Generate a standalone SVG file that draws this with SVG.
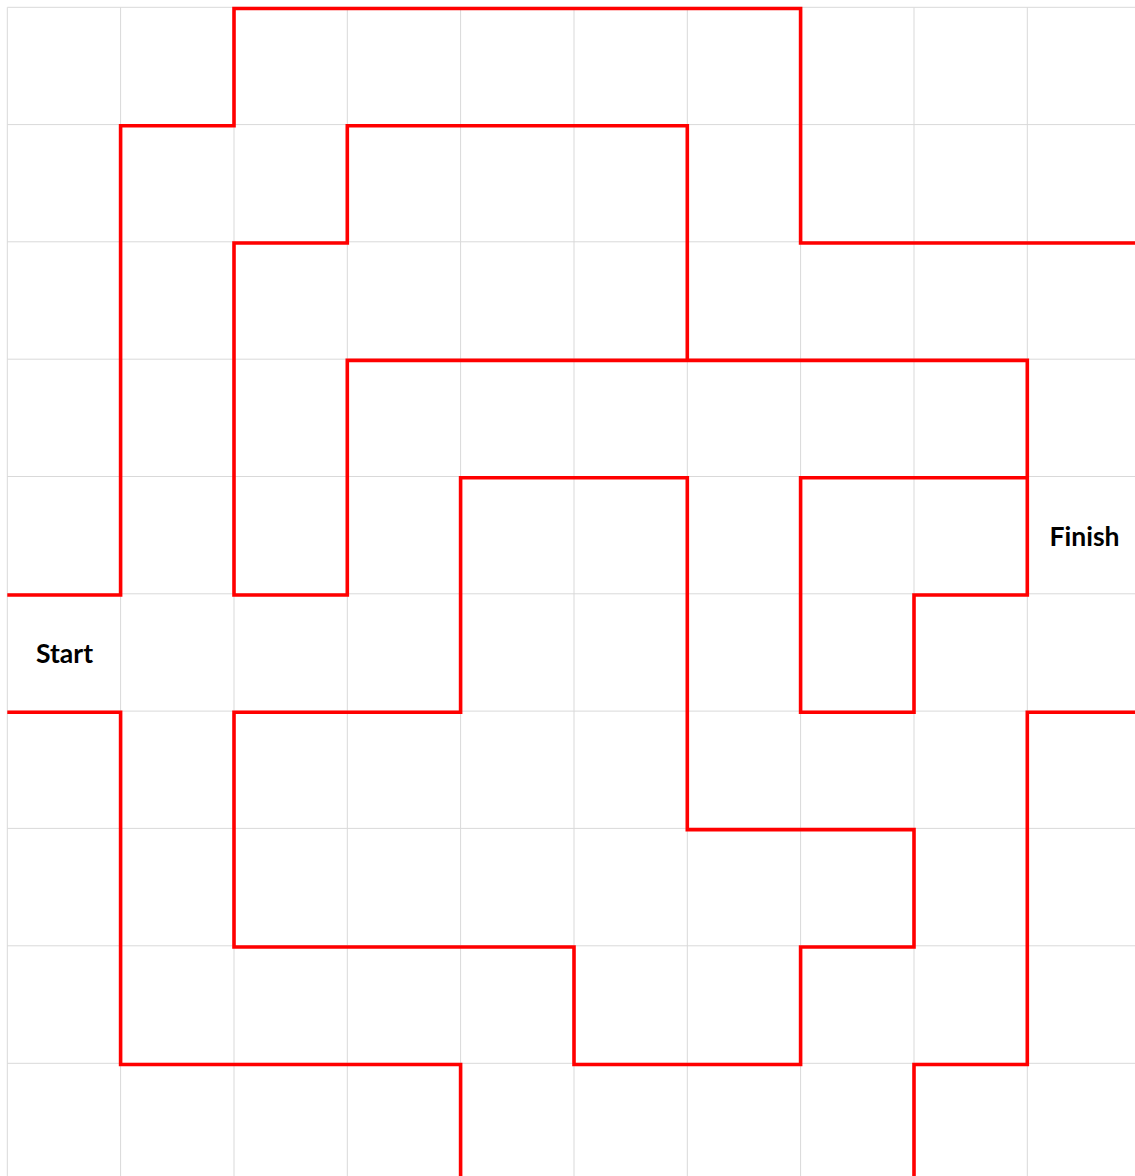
<svg xmlns="http://www.w3.org/2000/svg" width="1135" height="1176" viewBox="0 0 1135 1176">
<style>
.grid line{stroke:#d9d9d9;stroke-width:1}
.wall{fill:none;stroke:#ff0000;stroke-width:3.6;stroke-linejoin:miter;stroke-linecap:butt}
.lbl{font-family:Lato,"Open Sans","Liberation Sans",sans-serif;font-weight:bold;font-size:26.5px;fill:#000;text-anchor:middle}
</style>
<rect width="1135" height="1176" fill="#ffffff"/>
<g id="grid" class="grid">
<line x1="7.3" y1="7.3" x2="7.3" y2="1176"/>
<line x1="120.6" y1="7.3" x2="120.6" y2="1176"/>
<line x1="234" y1="7.3" x2="234" y2="1176"/>
<line x1="347.3" y1="7.3" x2="347.3" y2="1176"/>
<line x1="460.6" y1="7.3" x2="460.6" y2="1176"/>
<line x1="574" y1="7.3" x2="574" y2="1176"/>
<line x1="687.3" y1="7.3" x2="687.3" y2="1176"/>
<line x1="800.6" y1="7.3" x2="800.6" y2="1176"/>
<line x1="914" y1="7.3" x2="914" y2="1176"/>
<line x1="1027.3" y1="7.3" x2="1027.3" y2="1176"/>
<line x1="7.3" y1="7.3" x2="1135" y2="7.3"/>
<line x1="7.3" y1="124.6" x2="1135" y2="124.6"/>
<line x1="7.3" y1="241.8" x2="1135" y2="241.8"/>
<line x1="7.3" y1="359.2" x2="1135" y2="359.2"/>
<line x1="7.3" y1="476.5" x2="1135" y2="476.5"/>
<line x1="7.3" y1="593.8" x2="1135" y2="593.8"/>
<line x1="7.3" y1="711.1" x2="1135" y2="711.1"/>
<line x1="7.3" y1="828.4" x2="1135" y2="828.4"/>
<line x1="7.3" y1="945.8" x2="1135" y2="945.8"/>
<line x1="7.3" y1="1063.3" x2="1135" y2="1063.3"/>
</g>
<g id="walls">
<polyline id="wall-top" class="wall" points="7.3,595 120.6,595 120.6,125.8 234,125.8 234,8.5 800.6,8.5 800.6,243 1136,243"/>
<polyline id="wall-bottom" class="wall" points="7.3,712.3 120.6,712.3 120.6,1064.5 460.6,1064.5 460.6,1177"/>
<polyline id="wall-inner" class="wall" points="914,477.7 800.6,477.7 800.6,712.3 914,712.3 914,595 1027.3,595 1027.3,360.4 347.3,360.4 347.3,595 234,595 234,243 347.3,243 347.3,125.8 687.3,125.8 687.3,360.4"/>
<line class="wall" x1="914" y1="477.7" x2="1027.3" y2="477.7"/>
<polygon id="wall-loop" class="wall" points="234,712.3 460.6,712.3 460.6,477.7 687.3,477.7 687.3,829.6 914,829.6 914,947 800.6,947 800.6,1064.5 574,1064.5 574,947 234,947"/>
<polyline id="wall-right" class="wall" points="1136,712.3 1027.3,712.3 1027.3,1064.5 914,1064.5 914,1177"/>
</g>
<g id="start"><text class="lbl" x="64.5" y="663">Start</text></g>
<g id="finish"><text class="lbl" x="1084.5" y="546">Finish</text></g>
</svg>
